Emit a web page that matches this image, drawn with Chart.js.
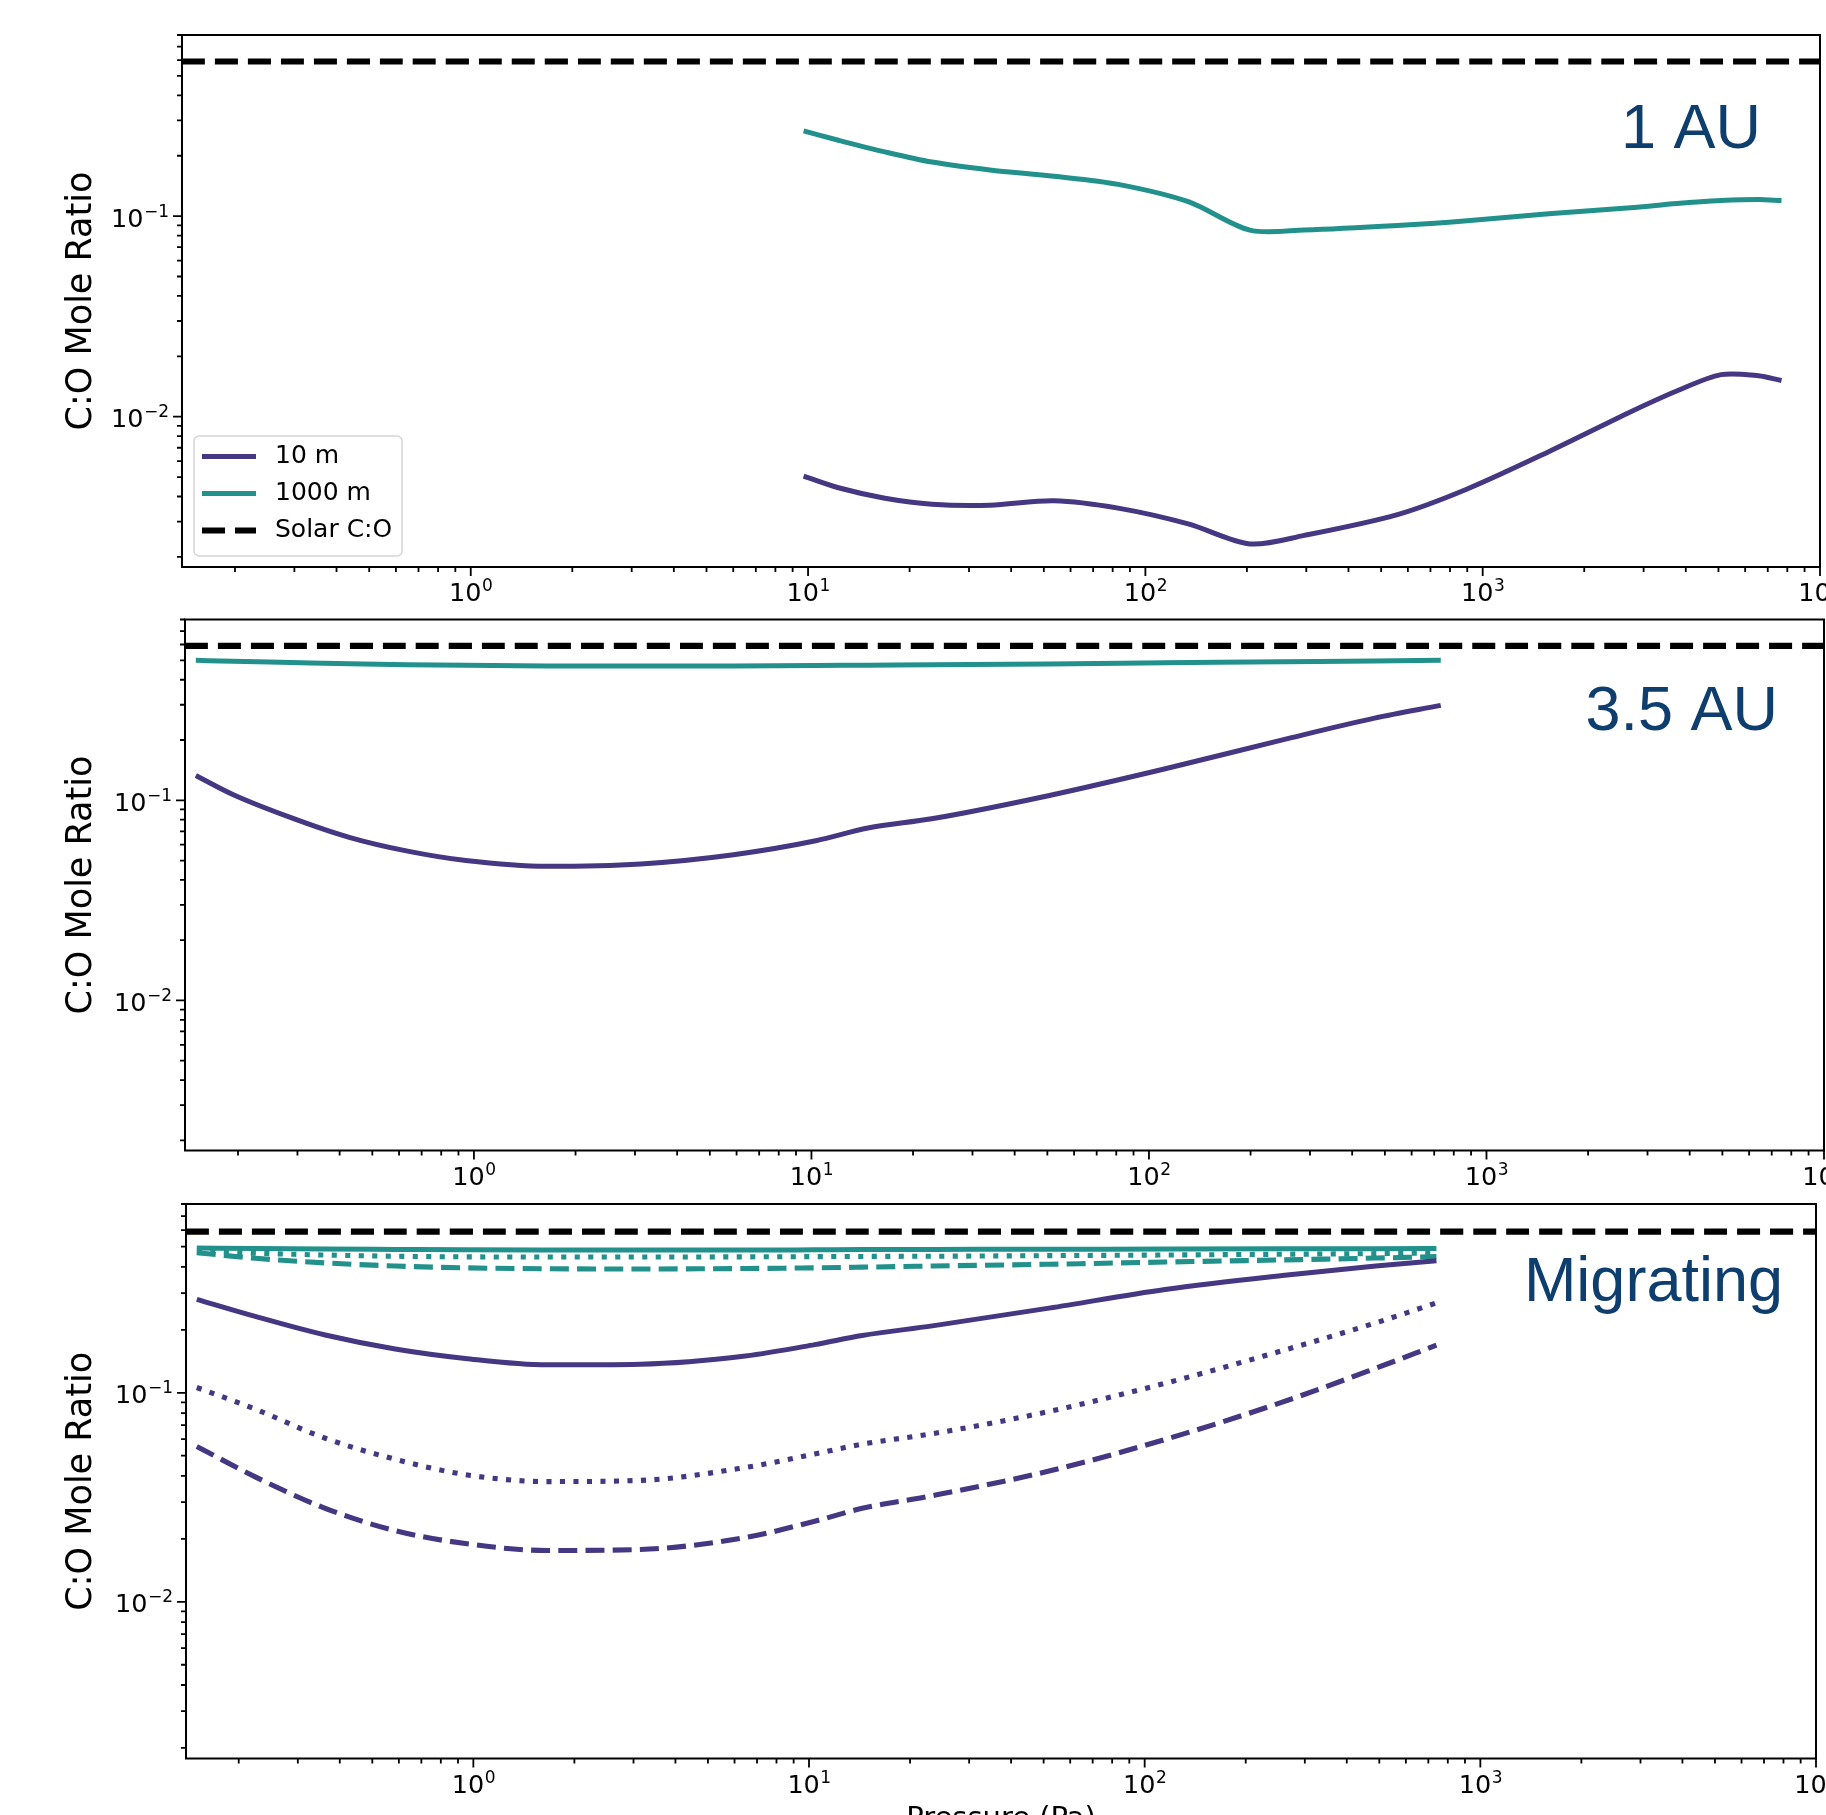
<!DOCTYPE html>
<html lang="en">
<head>
<meta charset="utf-8">
<title>C:O Mole Ratio vs Pressure</title>
<script src="https://cdn.jsdelivr.net/npm/chart.js@4.4.1/dist/chart.umd.min.js"></script>
<style>
    html, body { margin: 0; padding: 0; background: #fff; }
    body { position: relative; width: 1826px; height: 1815px; overflow: hidden; }
    canvas { position: absolute; left: 0; }
</style>
</head>
<body>
<canvas id="chart1AU"></canvas>
<canvas id="chart35AU"></canvas>
<canvas id="chartMig"></canvas>
<script>
// ========================================
// Data
// ========================================

// 1 AU panel
const pressure1AU = [9.7, 12.3, 16.9, 23.3, 34.6, 53.6, 83, 134, 204, 296, 559, 900, 1570, 2740, 3760, 5090, 6570, 7690];
const ratio1AU10m = [0.00505, 0.00442, 0.00392, 0.00366, 0.00362, 0.00381, 0.00350, 0.00292, 0.00232, 0.00256, 0.00325, 0.00436, 0.00669, 0.01055, 0.01342, 0.0162, 0.0160, 0.01515];
const ratio1AU1000m = [0.266, 0.239, 0.209, 0.186, 0.170, 0.158, 0.144, 0.118, 0.0851, 0.0853, 0.0898, 0.0948, 0.1027, 0.110, 0.1155, 0.1195, 0.121, 0.1195];

// 3.5 AU panel
const pressure35AU = [0.15, 0.193, 0.287, 0.427, 0.636, 0.946, 1.65, 3.12, 5.88, 10.3, 14.7, 22.7, 50.3, 111, 247, 466, 732];
const ratio35AU10m = [0.133, 0.1069, 0.0819, 0.0653, 0.0557, 0.0500, 0.0468, 0.0481, 0.0535, 0.0628, 0.0727, 0.0808, 0.1054, 0.1433, 0.1998, 0.2573, 0.2979];
const ratio35AU1000m = [0.50, 0.495, 0.488, 0.481, 0.476, 0.472, 0.469, 0.468, 0.469, 0.471, 0.473, 0.475, 0.48, 0.486, 0.492, 0.497, 0.50];

// Migrating panel (solid / dotted / dashed runs)
const pressureMig = [0.15, 0.224, 0.362, 0.585, 0.946, 1.66, 3.14, 6.46, 10.4, 14.4, 23.3, 51.9, 115, 257, 488, 740];
const ratioMig10m = [0.280, 0.232, 0.189, 0.162, 0.146, 0.136, 0.137, 0.150, 0.170, 0.188, 0.209, 0.254, 0.312, 0.364, 0.404, 0.428];
const ratioMig10mDot = [0.106, 0.0835, 0.0606, 0.0481, 0.0406, 0.0376, 0.0381, 0.0439, 0.051, 0.0568, 0.0637, 0.0814, 0.111, 0.159, 0.216, 0.269];
const ratioMig10mDash = [0.0554, 0.0396, 0.0280, 0.0219, 0.0190, 0.0176, 0.0178, 0.0203, 0.0243, 0.0280, 0.0322, 0.0422, 0.0598, 0.0902, 0.131, 0.169];
const ratioMig1000m = [0.493, 0.49, 0.487, 0.485, 0.483, 0.482, 0.482, 0.482, 0.483, 0.484, 0.485, 0.486, 0.487, 0.488, 0.489, 0.49];
const ratioMig1000mDot = [0.475, 0.465, 0.456, 0.45, 0.447, 0.446, 0.446, 0.447, 0.448, 0.449, 0.45, 0.453, 0.456, 0.46, 0.463, 0.466];
const ratioMig1000mDash = [0.468, 0.44, 0.418, 0.404, 0.396, 0.392, 0.391, 0.393, 0.396, 0.399, 0.404, 0.412, 0.422, 0.432, 0.441, 0.448];

// Solar reference and axis limits
const SOLAR_CO = 0.59;
const X_MIN = 0.1393, X_MAX = 10000;
const Y_MIN = 0.00178, Y_MAX = 0.80;

// Tick labels (base, exponent)
const xTickValues = [1, 10, 100, 1000, 10000];
const xTickLabels = [['10', '0'], ['10', '1'], ['10', '2'], ['10', '3'], ['10', '4']];
const yTickValues = [0.01, 0.1];
const yTickLabels = [['10', '\u22122'], ['10', '\u22121']];

// Colours
const PURPLE = '#453781';
const TEAL = '#22918c';
const LABEL_BLUE = '#0e3e6d';

const TICK_FONT = 25.5;
const SUP_FONT = 17;

Chart.defaults.font.family = "'DejaVu Sans', sans-serif";
Chart.defaults.color = '#000';

// ========================================
// Helpers
// ========================================

/**
 * pair a pressure grid with a ratio series
 */
function toPoints(xs, ys) {
    return xs.map((x, i) => ({ x: x, y: ys[i] }));
}

/**
 * major + minor ticks of a log axis (1..9 per decade)
 */
function logTicks(min, max) {
    const out = [];
    const lo = Math.floor(Math.log10(min));
    const hi = Math.ceil(Math.log10(max));
    for (let e = lo; e <= hi; e++) {
        for (let m = 1; m < 10; m++) {
            const v = parseFloat((m * Math.pow(10, e)).toPrecision(6));
            if (v < min * 0.9999 || v > max * 1.0001) continue;
            out.push({ value: v, major: m === 1 });
        }
    }
    return out;
}

function findLabel(value, values, labels) {
    const i = values.findIndex(v => Math.abs(Math.log10(v) - Math.log10(value)) < 1e-6);
    return i >= 0 ? labels[i] : null;
}

// ========================================
// Plugins: frame + ticks, boxed legend, panel label
// ========================================

const frameTicksPlugin = {
    id: 'frameTicks',
    afterDraw(chart) {
        const { ctx, chartArea: a, scales } = chart;
        ctx.save();
        ctx.strokeStyle = '#000';
        ctx.lineWidth = 2;
        ctx.strokeRect(a.left, a.top, a.right - a.left, a.bottom - a.top);
        ctx.lineWidth = 1.8;
        ctx.beginPath();
        scales.x.ticks.forEach(t => {
            const px = scales.x.getPixelForValue(t.value);
            const len = t.major ? 9 : 5;
            ctx.moveTo(px, a.bottom);
            ctx.lineTo(px, a.bottom + len);
        });
        scales.y.ticks.forEach(t => {
            const py = scales.y.getPixelForValue(t.value);
            const len = t.major ? 9 : 5;
            ctx.moveTo(a.left, py);
            ctx.lineTo(a.left - len, py);
        });
        ctx.stroke();

        // tick labels as 10 with a raised exponent (mathtext look)
        ctx.fillStyle = '#000';
        ctx.textBaseline = 'alphabetic';
        ctx.textAlign = 'left';
        const mainFont = TICK_FONT + "px 'DejaVu Sans'";
        const supFont = SUP_FONT + "px 'DejaVu Sans'";
        scales.x.ticks.forEach(t => {
            const lab = findLabel(t.value, xTickValues, xTickLabels);
            if (!lab) return;
            const px = scales.x.getPixelForValue(t.value);
            ctx.font = mainFont;
            const wb = ctx.measureText(lab[0]).width;
            ctx.font = supFont;
            const we = ctx.measureText(lab[1]).width;
            const x0 = px - (wb + we) / 2;
            const base = a.bottom + 34.4;
            ctx.font = mainFont;
            ctx.fillText(lab[0], x0, base);
            ctx.font = supFont;
            ctx.fillText(lab[1], x0 + wb + 0.5, base - 10);
        });
        scales.y.ticks.forEach(t => {
            const lab = findLabel(t.value, yTickValues, yTickLabels);
            if (!lab) return;
            const py = scales.y.getPixelForValue(t.value);
            ctx.font = supFont;
            const we = ctx.measureText(lab[1]).width;
            ctx.font = mainFont;
            const wb = ctx.measureText(lab[0]).width;
            const xr = a.left - 13;
            const base = py + 10.5;
            ctx.fillText(lab[0], xr - we - wb - 0.5, base);
            ctx.font = supFont;
            ctx.fillText(lab[1], xr - we, base - 10);
        });
        ctx.restore();
    }
};

const boxLegendPlugin = {
    id: 'boxLegend',
    afterDraw(chart, args, opts) {
        if (!opts.display) return;
        const { ctx, chartArea: a } = chart;
        const x0 = a.left + opts.offsetX;
        const y0 = a.bottom - opts.offsetY - opts.height;
        ctx.save();
        ctx.beginPath();
        ctx.roundRect(x0, y0, opts.width, opts.height, 5);
        ctx.fillStyle = 'rgba(255,255,255,0.8)';
        ctx.fill();
        ctx.strokeStyle = '#d5d5d5';
        ctx.lineWidth = 1.5;
        ctx.stroke();
        chart.data.datasets.forEach((ds, i) => {
            const y = y0 + opts.firstRow + i * opts.rowGap;
            ctx.beginPath();
            ctx.setLineDash(ds.borderDash || []);
            ctx.strokeStyle = ds.borderColor;
            ctx.lineWidth = ds.borderWidth;
            ctx.moveTo(x0 + 8, y);
            ctx.lineTo(x0 + 62, y);
            ctx.stroke();
            ctx.setLineDash([]);
            ctx.fillStyle = '#000';
            ctx.font = opts.fontSize + "px 'DejaVu Sans'";
            ctx.textBaseline = 'middle';
            ctx.fillText(ds.label, x0 + 81, y);
        });
        ctx.restore();
    }
};

const panelLabelPlugin = {
    id: 'panelLabel',
    afterDraw(chart, args, opts) {
        const { ctx, chartArea: a } = chart;
        ctx.save();
        ctx.font = "63px 'Liberation Sans', Arial, sans-serif";
        ctx.fillStyle = LABEL_BLUE;
        ctx.textAlign = 'right';
        ctx.textBaseline = 'alphabetic';
        ctx.fillText(opts.text, a.right - opts.right, a.top + opts.baseline);
        ctx.restore();
    }
};

// ========================================
// Chart builder
// ========================================

function lineSet(label, points, color, width, dash) {
    return {
        label: label,
        data: points,
        borderColor: color,
        backgroundColor: color,
        borderWidth: width,
        borderDash: dash || [],
        pointRadius: 0,
        tension: 0.3,
        fill: false
    };
}

function smoothSet(label, points, color, width, dash) {
    const ds = lineSet(label, points, color, width, dash);
    ds.cubicInterpolationMode = 'monotone';
    return ds;
}

function solarSet() {
    return lineSet('Solar C:O', [{ x: X_MIN, y: SOLAR_CO }, { x: X_MAX, y: SOLAR_CO }], '#000', 6.2, [23, 10]);
}

function makePanel(panel, datasets) {
    const canvas = document.getElementById(panel.id);
    canvas.width = 1826;
    canvas.height = panel.height;
    canvas.style.top = panel.top + 'px';

    const a = panel.area;
    const padBottom = panel.padBottom || 0;
    const xAxisHeight = panel.height - padBottom - (a.bottom - panel.top);

    return new Chart(canvas.getContext('2d'), {
        type: 'line',
        data: { datasets: datasets },
        plugins: [frameTicksPlugin, boxLegendPlugin, panelLabelPlugin],
        options: {
            responsive: false,
            animation: false,
            layout: {
                padding: { top: a.top - panel.top, right: 1826 - a.right, bottom: padBottom, left: 0 }
            },
            plugins: {
                legend: { display: false },
                tooltip: { enabled: false },
                boxLegend: Object.assign({ display: false }, panel.legend || {}),
                panelLabel: panel.label
            },
            scales: {
                x: {
                    type: 'logarithmic',
                    min: X_MIN,
                    max: X_MAX,
                    afterBuildTicks: (scale) => { scale.ticks = logTicks(scale.min, scale.max); },
                    afterFit: (scale) => {
                        scale.height = xAxisHeight;
                        scale.paddingLeft = 0;
                        scale.paddingRight = 0;
                    },
                    grid: { display: false, drawTicks: false },
                    border: { display: false },
                    ticks: { display: false, autoSkip: false },
                    title: {
                        display: !!panel.xTitle,
                        text: 'Pressure (Pa)',
                        font: { size: 29 },
                        color: '#000',
                        padding: { top: 0, bottom: panel.xTitlePad || 0 }
                    }
                },
                y: {
                    type: 'logarithmic',
                    min: Y_MIN,
                    max: Y_MAX,
                    afterBuildTicks: (scale) => { scale.ticks = logTicks(scale.min, scale.max); },
                    afterFit: (scale) => {
                        scale.width = a.left;
                        scale.paddingTop = 0;
                        scale.paddingBottom = 0;
                    },
                    grid: { display: false, drawTicks: false },
                    border: { display: false },
                    ticks: { display: false, autoSkip: false },
                    title: {
                        display: true,
                        text: 'C:O Mole Ratio',
                        font: { size: 35 },
                        color: '#000',
                        padding: { top: 61, bottom: 0 }
                    }
                }
            }
        }
    });
}

// ========================================
// Panels
// ========================================

makePanel({
    id: 'chart1AU', top: 0, height: 625,
    area: { left: 182, right: 1820, top: 35, bottom: 567 },
    label: { text: '1 AU', right: 59, baseline: 113 },
    legend: { display: true, offsetX: 12, offsetY: 11, width: 208, height: 120, firstRow: 20.5, rowGap: 37, fontSize: 25 }
}, [
    lineSet('10 m', toPoints(pressure1AU, ratio1AU10m), PURPLE, 5),
    lineSet('1000 m', toPoints(pressure1AU, ratio1AU1000m), TEAL, 5),
    solarSet()
]);

makePanel({
    id: 'chart35AU', top: 590, height: 625,
    area: { left: 185, right: 1824, top: 619.5, bottom: 1150.5 },
    label: { text: '3.5 AU', right: 46, baseline: 110.5 }
}, [
    smoothSet('10 m', toPoints(pressure35AU, ratio35AU10m), PURPLE, 5),
    smoothSet('1000 m', toPoints(pressure35AU, ratio35AU1000m), TEAL, 5),
    solarSet()
]);

makePanel({
    id: 'chartMig', top: 1180, height: 700,
    area: { left: 186, right: 1816, top: 1204, bottom: 1758.5 },
    label: { text: 'Migrating', right: 33, baseline: 96.5 },
    xTitle: true, xTitlePad: 43
}, [
    smoothSet('10 m', toPoints(pressureMig, ratioMig10m), PURPLE, 5),
    smoothSet('10 m dotted', toPoints(pressureMig, ratioMig10mDot), PURPLE, 5.1, [5.1, 8.4]),
    smoothSet('10 m dashed', toPoints(pressureMig, ratioMig10mDash), PURPLE, 5.1, [19, 8.2]),
    smoothSet('1000 m', toPoints(pressureMig, ratioMig1000m), TEAL, 5),
    smoothSet('1000 m dotted', toPoints(pressureMig, ratioMig1000mDot), TEAL, 5.1, [5.1, 8.4]),
    smoothSet('1000 m dashed', toPoints(pressureMig, ratioMig1000mDash), TEAL, 5.1, [19, 8.2]),
    solarSet()
]);
</script>
</body>
</html>
